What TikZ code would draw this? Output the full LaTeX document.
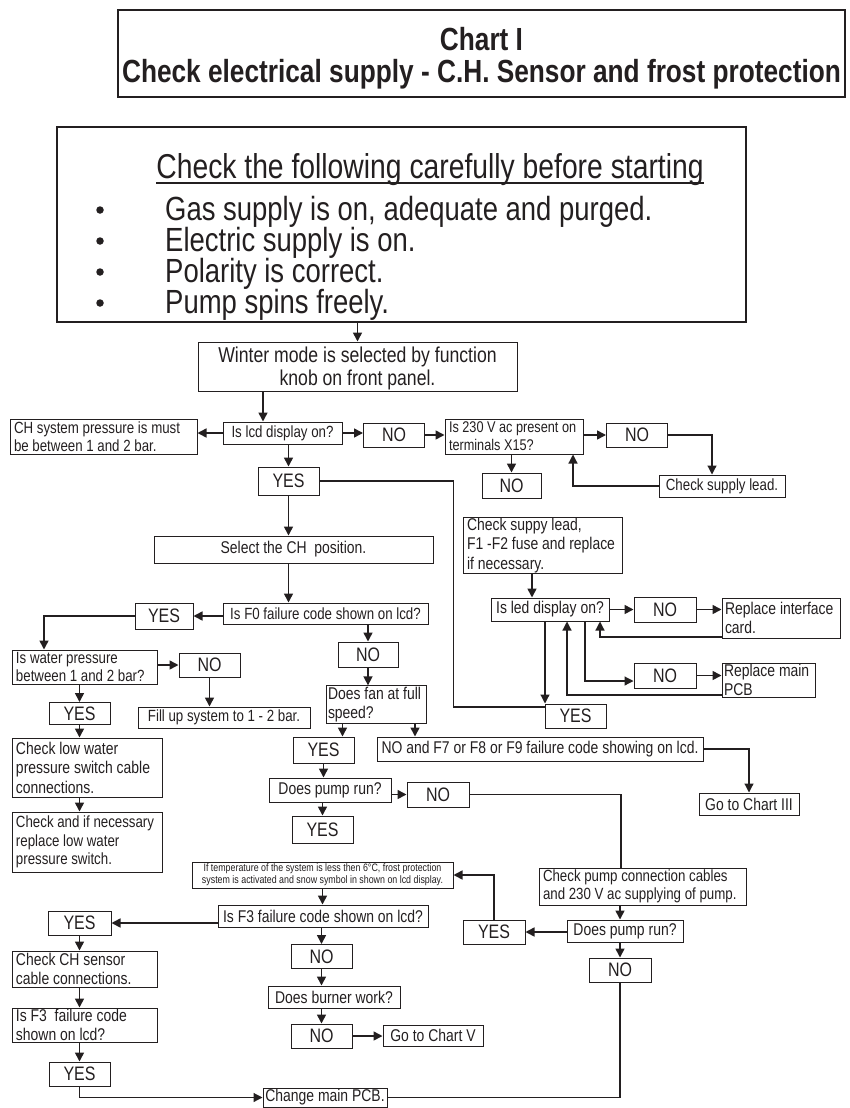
\documentclass[tikz,border=0pt]{standalone}
\usepackage{fontspec}
\setmainfont{Liberation Sans}[FakeStretch=0.82]
\usetikzlibrary{arrows.meta}
\definecolor{ink}{RGB}{35,31,32}
\newcommand\fsz[2]{\fontsize{#1}{#2}\selectfont}
\tikzset{
  >={Triangle[length=9pt,width=9pt]},
  box/.style 2 args={draw=ink,line width=1pt,minimum width=#1pt,minimum height=#2pt,
    inner xsep=2pt,inner ysep=1pt,text=ink,align=center},
  lbox/.style 2 args={draw=ink,line width=1pt,text width=#1pt,minimum height=#2pt,
    inner xsep=4pt,inner ysep=1pt,text=ink,align=flush left},
  sm/.style={font=\fsz{16.2}{18.5}},
  md/.style={font=\fsz{17}{19.5}},
  yn/.style={font=\fsz{19.5}{21}},
  tiny/.style={font=\fsz{10.8}{12}},
  dot/.style={circle,fill=ink,inner sep=0pt,minimum size=7.5pt},
  arr/.style={->,draw=ink,line width=1.6pt},
  ln/.style={draw=ink,line width=1.2pt},
}
\begin{document}
\begin{tikzpicture}[x=1pt,y=-1pt]
\useasboundingbox (0,0) rectangle (849,1108);
% heading
\node[box={727}{87},line width=1.2pt] (title) at (481.5,53.5) {};
\node[align=center,inner sep=0pt,text=ink,font=\bfseries\fsz{32}{32.5}] (titletext) at (481.5,58)
  {Chart I\\Check electrical supply - C.H. Sensor and frost protection};
% checklist
\node[box={689}{195},line width=1.2pt] (check) at (401.5,224.5) {};
\node[anchor=base,inner sep=0pt,text=ink,font=\fsz{34.5}{35}] (head) at (430,178)
  {Check the following carefully before starting};
\draw[ink,line width=1.2pt] ([yshift=-5pt]head.base west) -- ([yshift=-5pt]head.base east);
\foreach \txt [count=\i] in {{Gas supply is on, adequate and purged.},{Electric supply is on.},
    {Polarity is correct.},{Pump spins freely.}}{
  \node[dot] (dot\i) at (100,{210+31*(\i-1)}) {};
  \node[anchor=base west,inner sep=0pt,text=ink,font=\fsz{33.5}{34}] (item\i) at (165,{220+31*(\i-1)}) {\txt};
}
% boxes
\node[box={319}{49},font=\fsz{21.5}{23},inner ysep=0pt] (winter) at (357.5,366.5) {\rule{0pt}{19pt}Winter mode is selected by function\\knob on front panel.};
\node[box={119}{22},sm] (lcd) at (282.5,433) {Is lcd display on?};
\node[lbox={179}{35},sm] (ch) at (103.5,436.5) {CH system pressure is must\\be between 1 and 2 bar.};
\node[box={61}{24},yn] (no1) at (394,435) {NO};
\node[lbox={130}{35},font=\fsz{15.5}{18}] (v230) at (514,436.5) {Is 230 V ac present on\\terminals X15?};
\node[box={61}{24},yn] (no2) at (637,435) {NO};
\node[box={126}{22},sm] (supply) at (722,486) {Check supply lead.};
\node[box={59}{25},yn] (no3) at (511.5,485.5) {NO};
\node[box={61}{28},yn] (yes1) at (288.5,481) {YES};
\node[box={279}{27},md] (select) at (293.5,549.5) {Select the CH\ \ position.};
\node[box={205}{21},sm] (f0) at (325.5,613.5) {Is F0 failure code shown on lcd?};
\node[box={58}{26},yn] (yesF0) at (164,616) {YES};
\node[lbox={137}{34},sm] (water) at (84.5,667) {Is water pressure\\between 1 and 2 bar?};
\node[box={61}{24},yn] (noW) at (209.5,665) {NO};
\node[box={172}{21},sm] (fill) at (224,717.5) {Fill up system to 1 - 2 bar.};
\node[box={61}{22},yn] (yesW) at (79.5,713.5) {YES};
\node[lbox={142}{59},md] (low) at (87,767.5) {Check low water\\pressure switch cable\\connections.};
\node[lbox={142}{60},sm] (repl) at (87,842) {Check and if necessary\\replace low water\\pressure switch.};
\node[box={60}{25},yn] (noF0) at (368,654.5) {NO};
\node[lbox={96}{31},md,inner xsep=2pt] (fan) at (376,704.5) {Does fan at full\\speed?};
\node[box={61}{26},yn] (yesFan) at (323.5,750) {YES};
\node[box={122}{24},md] (pump) at (330,790) {Does pump run?};
\node[box={61}{27},yn] (yesPump) at (322.5,829.5) {YES};
\node[box={62}{25},yn] (noPump) at (438,794.5) {NO};
\node[box={261}{26},tiny] (frost) at (322.5,875) {If temperature of the system is less then 6°C, frost protection\\system is activated and snow symbol in shown on lcd display.};
\node[box={210}{22},md] (f3) at (323,916) {Is F3 failure code shown on lcd?};
\node[box={63}{24},yn] (yesF3) at (79.5,923) {YES};
\node[lbox={137}{36},md] (sensor) at (84.5,969) {Check CH sensor\\cable connections.};
\node[lbox={137}{32},md] (isf3) at (84.5,1025) {Is F3\ \ failure code\\shown on lcd?};
\node[box={61}{24},yn] (yesLast) at (79.5,1074) {YES};
\node[box={61}{24},yn] (noF3) at (321.5,956.5) {NO};
\node[box={132}{22},md] (burner) at (334,997) {Does burner work?};
\node[box={61}{24},yn] (noBurn) at (321.5,1036) {NO};
\node[box={100}{21},md] (chartV) at (433,1035.5) {Go to Chart V};
\node[box={124}{19},md] (pcb) at (325,1097.5) {Change main PCB.};
\node[lbox={151}{55},md] (fuse) at (542.5,545.5) {Check suppy lead,\\F1 -F2 fuse and replace\\if necessary.};
\node[box={118}{23},md] (led) at (550,609.5) {Is led display on?};
\node[box={62}{25},yn] (noLed) at (665,609.5) {NO};
\node[lbox={112}{40},md,inner xsep=3pt] (card) at (781,618) {Replace interface\\card.};
\node[box={62}{25},yn] (noLed2) at (665,675.5) {NO};
\node[lbox={89}{34},md,inner xsep=2pt] (mainpcb) at (768.5,680) {Replace main\\PCB};
\node[box={61}{24},yn] (yesLed) at (575.5,716) {YES};
\node[box={326}{24},md] (f7) at (540,749) {NO and F7 or F8 or F9 failure code showing on lcd.};
\node[box={100}{22},md] (chart3) at (749,804) {Go to Chart III};
\node[lbox={199}{37},sm] (pumpchk) at (642.5,886.5) {Check pump connection cables\\and 230 V ac supplying of pump.};
\node[box={116}{22},md] (pump2) at (625,931) {Does pump run?};
\node[box={62}{24},yn] (noP2) at (620,970) {NO};
\node[box={62}{24},yn] (yesP2) at (494,932) {YES};
% connectors
\draw[arr] (winter.north |- check.south) -- (winter.north);
\draw[arr] ([xshift=-19.5pt]lcd.north |- winter.south) -- ([xshift=-19.5pt]lcd.north);
\draw[arr] (lcd.west) -- (lcd.west -| ch.east);
\draw[arr] (lcd.east) -- (lcd.east -| no1.west);
\draw[arr] (no1.east) -- (no1.east -| v230.west);
\draw[arr] (v230.east |- no2) -- (no2.west);
\draw[ln,->] (no2.east) -| ([xshift=-10pt]supply.north);
\draw[ln,->] (supply.west) -| ([xshift=59pt]v230.south);
\draw[arr] (v230.south -| no3.north) -- (no3.north);
\draw[arr] (yes1.north |- lcd.south) -- (yes1.north);
\draw[ln] (yes1.east) -| ([xshift=-91pt,yshift=9pt]yesLed.west) -- ([yshift=9pt]yesLed.west);
\draw[arr] (yes1.south) -- (yes1.south |- select.north);
\draw[arr] (yes1 |- select.south) -- (yes1 |- f0.north);
\draw[arr] (f0.west |- yesF0) -- (yesF0.east);
\draw[arr] (yesF0.west) -| ([xshift=-40.5pt]water.north);
\draw[arr] (water.east |- noW) -- (noW.west);
\draw[arr] (noW.south) -- (noW.south |- fill.north);
\draw[arr] (yesW.north |- water.south) -- (yesW.north);
\draw[arr] (yesW.south) -- (yesW.south |- low.north);
\draw[arr] (yesW |- low.south) -- (yesW |- repl.north);
\draw[arr] (noF0.north |- f0.south) -- (noF0.north);
\draw[arr] (noF0.south) -- (noF0.south |- fan.north);
\draw[arr] ([xshift=19pt]yesFan.north |- fan.south) -- ([xshift=19pt]yesFan.north);
\draw[arr] ([xshift=39pt]fan.south) -- ([xshift=39pt]fan.south |- f7.north);
\draw[arr] (yesFan.south) -- (yesFan.south |- pump.north);
\draw[arr] (yesPump.north |- pump.south) -- (yesPump.north);
\draw[arr] (pump.east |- noPump) -- (noPump.west);
\draw[ln] (noPump.east) -| ([xshift=-21.5pt]pumpchk.north);
\draw[arr] (noP2.north |- pumpchk.south) -- (noP2.north |- pump2.north);
\draw[arr] (noP2.north |- pump2.south) -- (noP2.north);
\draw[arr] (pump2.west |- yesP2) -- (yesP2.east);
\draw[arr] (yesP2.north) |- (frost.east);
\draw[arr] (frost.south) -- (frost.south |- f3.north);
\draw[arr] (f3.west |- yesF3) -- (yesF3.east);
\draw[arr] (yesF3.south) -- (yesF3.south |- sensor.north);
\draw[arr] (yesF3 |- sensor.south) -- (yesF3 |- isf3.north);
\draw[arr] (yesLast.north |- isf3.south) -- (yesLast.north);
\draw[ln,->] (yesLast.south) |- (pcb.west);
\draw[ln] (noP2.south) |- (pcb.east);
\draw[arr] (noF3.north |- f3.south) -- (noF3.north);
\draw[arr] (noF3.south) -- (noF3.south |- burner.north);
\draw[arr] (noBurn.north |- burner.south) -- (noBurn.north);
\draw[arr] (noBurn.east) -- (noBurn.east -| chartV.west);
\draw[arr] ([xshift=-18pt]led.north |- fuse.south) -- ([xshift=-18pt]led.north);
\draw[arr] (led.east) -- (led.east -| noLed.west);
\draw[arr] (noLed.east) -- (noLed.east -| card.west);
\draw[ln,->] ([yshift=-19pt]card.west) -| ([xshift=50pt]led.south);
\draw[ln,->] ([xshift=35pt]led.south) |- ([yshift=-5.5pt]noLed2.west);
\draw[arr] (noLed2.east) -- (noLed2.east -| mainpcb.west);
\draw[ln,->] ([yshift=-15pt]mainpcb.west) -| ([xshift=17pt]led.south);
\draw[ln,->] ([xshift=-5pt]led.south) -- ([xshift=-5pt]led.south |- yesLed.north);
\draw[ln,->] (f7.east) -| (chart3.north);
\end{tikzpicture}
\end{document}
